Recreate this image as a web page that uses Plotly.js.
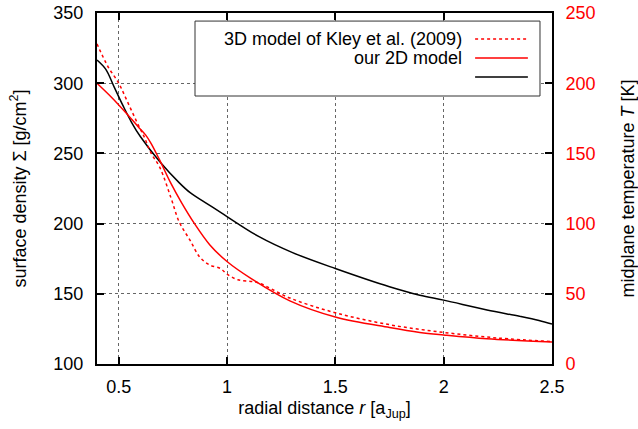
<!DOCTYPE html>
<html>
<head>
<meta charset="utf-8">
<script src="https://cdn.plot.ly/plotly-3.0.1.min.js"></script>
<style>html,body{margin:0;padding:0;background:#fff}#chart{width:638px;height:429px}</style>
</head>
<body>
<div id="chart"></div>
<script>
// radial distance r [a_Jup] and values
const rKley = [0.40,0.45,0.50,0.54,0.585,0.62,0.65,0.69,0.74,0.78,0.83,0.875,0.92,0.97,1.00,1.05,1.14,1.29,1.50,1.75,2.00,2.25,2.50];
const tKley = [228,212,200,187,172,161,150,140,119,101,88,76,70.5,68,64,60,58,47,36.5,28,22.5,18.5,16];

const r2D = [0.40,0.47,0.53,0.59,0.625,0.65,0.69,0.74,0.79,0.85,0.92,1.00,1.11,1.29,1.50,1.75,1.89,2.00,2.20,2.50];
const t2D = [200,189.5,179.5,169,163,157,145,129,115,100,85,73,61,45,33.5,26,22.5,20.7,18,15.7];

const rSigma = [0.40,0.44,0.48,0.52,0.56,0.60,0.69,0.78,0.83,0.90,1.00,1.15,1.30,1.50,1.75,1.89,2.00,2.20,2.35,2.44,2.50];
const sigma = [316.5,310,297,284,272,262,244,229,222,215,205,190.5,179.5,168,155,149,145.5,138.5,134,131,128.5];

const xTicks = [0.5,1,1.5,2,2.5];
const yTicks = [100,150,200,250,300,350];
const y2Ticks = [0,50,100,150,200,250];

const legendLabels = ["3D model of Kley et al. (2009)", "our 2D model", ""];

const RED = "#ff0000";
const FAM = "Liberation Sans, Arial, sans-serif";
const tickFont = {family: FAM, size: 18, color: "#000"};
const titleFont = {family: FAM, size: 18, color: "#000"};
const legFont = {family: FAM, size: 18, color: "#000"};

const traces = [
  {x: rKley, y: tKley, yaxis: "y2", mode: "lines", line: {color: RED, width: 1.5, dash: "3px,3px", shape: "spline"}, showlegend: false},
  {x: r2D, y: t2D, yaxis: "y2", mode: "lines", line: {color: RED, width: 1.5, shape: "spline"}, showlegend: false},
  {x: rSigma, y: sigma, yaxis: "y", mode: "lines", line: {color: "#000", width: 1.5, shape: "spline"}, showlegend: false}
];

const rowsY = [0.926, 0.872, 0.818];
const sampleStyles = [
  {color: RED, width: 1.5, dash: "3px,3px"},
  {color: RED, width: 1.5},
  {color: "#000", width: 1.5}
];
const shapes = [{type: "rect", xref: "paper", yref: "paper", x0: 0.2154, x1: 0.9736, y0: 0.7635, y1: 0.977,
  fillcolor: "#fff", line: {color: "#333", width: 1}}];
const annotations = [];
legendLabels.forEach((lab, i) => {
  shapes.push({type: "line", xref: "paper", yref: "paper", x0: 0.831, x1: 0.947, y0: rowsY[i], y1: rowsY[i], line: sampleStyles[i]});
  if (lab) annotations.push({xref: "paper", yref: "paper", x: 0.806, y: rowsY[i], xanchor: "right", yanchor: "middle",
    text: lab, showarrow: false, font: legFont});
});

const axisCommon = {showline: true, linecolor: "#000", linewidth: 2, ticks: "inside", ticklen: 7, tickwidth: 2, tickcolor: "#000",
  zeroline: false, tickfont: tickFont};

const layout = {
  width: 638, height: 429,
  margin: {l: 97, r: 86, t: 13, b: 65},
  paper_bgcolor: "#fff", plot_bgcolor: "#fff",
  font: tickFont,
  showlegend: false,
  xaxis: Object.assign({}, axisCommon, {range: [0.4, 2.5], tickvals: xTicks, ticktext: xTicks.map(String), mirror: "ticks",
    showgrid: true, gridcolor: "#666", griddash: "dot", gridwidth: 1, ticklabelstandoff: 5,
    title: {text: "radial distance <i>r</i> [a<sub>Jup</sub>]", font: titleFont, standoff: 6}}),
  yaxis: Object.assign({}, axisCommon, {range: [100, 350], tickvals: yTicks, mirror: "ticks",
    showgrid: true, gridcolor: "#666", griddash: "dot", gridwidth: 1, ticklabelstandoff: 8,
    title: {text: "surface density Σ [g/cm<sup>2</sup>]", font: titleFont, standoff: 22}}),
  yaxis2: Object.assign({}, axisCommon, {range: [0, 250], tickvals: y2Ticks, overlaying: "y", side: "right",
    showgrid: false, ticklabelstandoff: 8, tickfont: {family: FAM, size: 18, color: RED},
    title: {text: "midplane temperature <i>T</i> [K]", font: titleFont, standoff: 28}}),
  shapes: shapes,
  annotations: annotations
};

Plotly.newPlot("chart", traces, layout, {staticPlot: true, displayModeBar: false});
</script>
</body>
</html>
